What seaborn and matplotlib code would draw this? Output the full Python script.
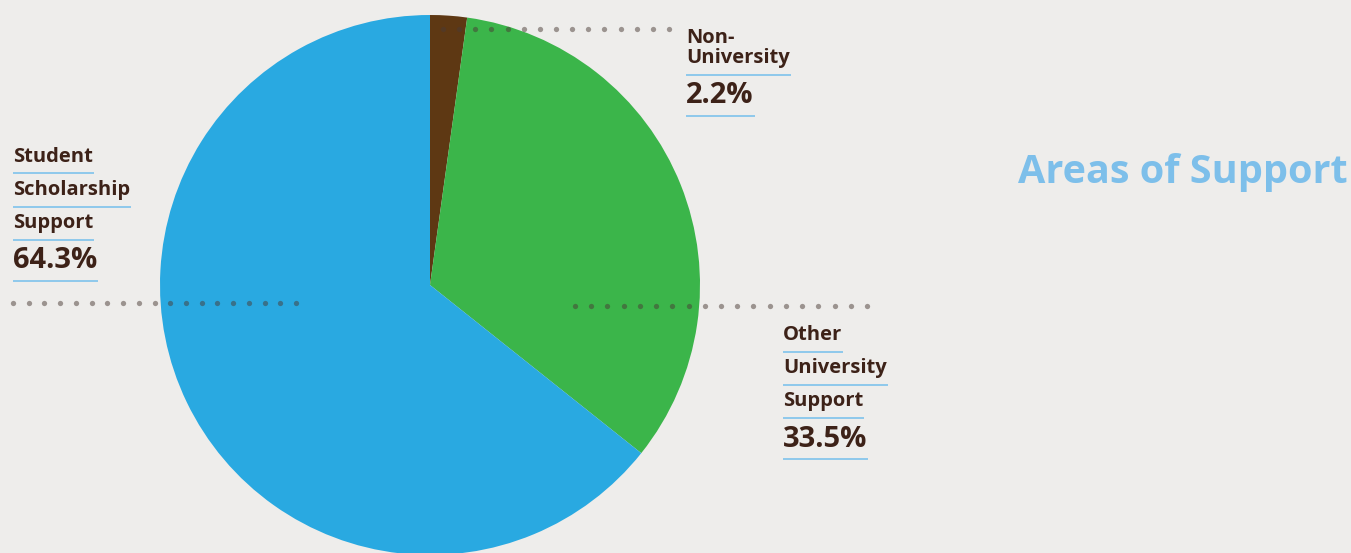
import numpy as np
import matplotlib
matplotlib.use("Agg")
import matplotlib.pyplot as plt
import seaborn as sns

# data (clockwise from 12 o'clock)
categories = ["Non-University", "Other University Support", "Student Scholarship Support"]
shares = [2.2, 33.5, 64.3]
label_lines = [["Non-\nUniversity"], ["Other", "University", "Support"], ["Student", "Scholarship", "Support"]]
pct_labels = ["2.2%", "33.5%", "64.3%"]
title = "Areas of Support"

BG = "#eeedeb"
TEXT = "#3d2218"
LINE = "#8ec8ec"
colors = ["#5e3813", "#3bb54a", "#29a9e1"]

sns.set_theme(style="white")
plt.rcParams["font.family"] = ["Open Sans", "DejaVu Sans"]

W, H = 1351, 553
fig = plt.figure(figsize=(W / 100, H / 100), dpi=100, facecolor=BG)
ax = fig.add_axes([0, 0, 1, 1])
ax.set_facecolor(BG)


def Y(y):
    # image pixel row -> data y
    return H - y


ax.pie(shares, colors=colors, startangle=90, counterclock=False,
       center=(430, Y(285)), radius=270, wedgeprops=dict(linewidth=0))
ax.set_xlim(0, W)
ax.set_ylim(0, H)
ax.set_aspect("equal")
ax.axis("off")

# dotted leader lines
dot_kw = dict(linestyle="none", marker="o", markersize=3.8, color="#4a3a35",
              alpha=0.5, markeredgewidth=0, zorder=5)
ax.plot(np.linspace(443, 669, 15), np.full(15, Y(29)), **dot_kw)
ax.plot(np.linspace(13, 296, 19), np.full(19, Y(303)), **dot_kw)
ax.plot(np.linspace(575, 867, 19), np.full(19, Y(306)), **dot_kw)

fig.canvas.draw()
renderer = fig.canvas.get_renderer()


def label(x, y_base, s, size, line_y):
    t = ax.text(x, Y(y_base), s, fontsize=size, fontweight="bold", color=TEXT,
                ha="left", va="baseline", linespacing=1.02)
    bb = t.get_window_extent(renderer)
    ax.plot([x, x + bb.width + 1], [Y(line_y), Y(line_y)], color=LINE, lw=1.4,
            solid_capstyle="butt")


# Non-University
label(686, 63, label_lines[0][0], 14.5, 75)
label(686, 103, pct_labels[0], 21, 116)

# Other University Support
for s, yb, ly in zip(label_lines[1], [340, 373, 406], [352, 385, 418]):
    label(783, yb, s, 14.5, ly)
label(783, 447, pct_labels[1], 21, 459)

# Student Scholarship Support
for s, yb, ly in zip(label_lines[2], [162, 195, 228], [173, 207, 240]):
    label(13, yb, s, 14.5, ly)
label(13, 268, pct_labels[2], 21, 281)

ax.text(1348, Y(183), title, fontsize=28.5, fontweight="bold", color="#7dbfea",
        ha="right", va="baseline")

fig.savefig("out.png", dpi=100, facecolor=BG)
